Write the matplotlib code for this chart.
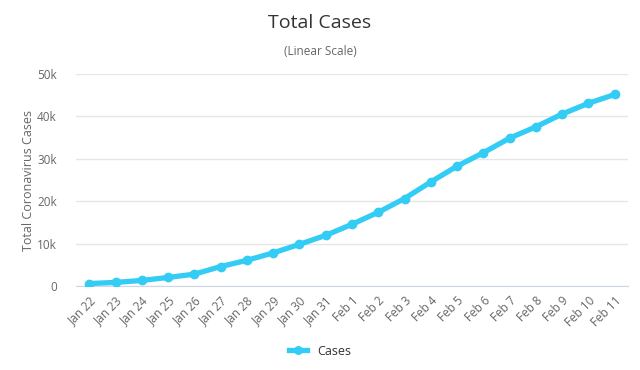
import matplotlib.pyplot as plt
import numpy as np

dates = ['Jan 22', 'Jan 23', 'Jan 24', 'Jan 25', 'Jan 26', 'Jan 27', 'Jan 28',
         'Jan 29', 'Jan 30', 'Jan 31', 'Feb 1', 'Feb 2', 'Feb 3', 'Feb 4',
         'Feb 5', 'Feb 6', 'Feb 7', 'Feb 8', 'Feb 9', 'Feb 10', 'Feb 11']
cases = [580, 845, 1317, 2015, 2800, 4581, 6058, 7813, 9823, 11950, 14553,
         17391, 20630, 24545, 28266, 31439, 34876, 37552, 40553, 43099, 45170]
yticks = [0, 10000, 20000, 30000, 40000, 50000]
ytick_labels = ['0', '10k', '20k', '30k', '40k', '50k']

plt.rcParams['font.family'] = ['Open Sans', 'DejaVu Sans']

fig = plt.figure(figsize=(6.4, 3.7), dpi=100)
ax = fig.add_axes([0.119, 0.227, 0.862, 0.573])

x = np.arange(len(dates))
line_color = '#33ccf5'
ax.plot(x, cases, color=line_color, linewidth=3.8, marker='o', markersize=6,
        label='Cases', zorder=3)

ax.set_xlim(-0.5, len(dates) - 0.5)
ax.set_ylim(0, 50000)
ax.set_yticks(yticks)
ax.set_yticklabels(ytick_labels)
ax.set_xticks(x)
ax.set_xticklabels(dates, rotation=45, ha='right', rotation_mode='anchor')

ax.grid(axis='y', color='#e6e6e6', linewidth=1)
ax.set_axisbelow(True)
for s in ['top', 'right', 'left']:
    ax.spines[s].set_visible(False)
ax.spines['bottom'].set_color('#ccd6eb')
ax.tick_params(axis='both', length=0, colors='#666666', labelsize=8.5)
ax.tick_params(axis='x', pad=6)
ax.tick_params(axis='y', pad=14)

ax.set_ylabel('Total Coronavirus Cases', color='#666666', fontsize=9, labelpad=1)

fig.text(0.5, 0.938, 'Total Cases', ha='center', va='center', fontsize=14,
         color='#333333')
fig.text(0.5, 0.862, '(Linear Scale)', ha='center', va='center', fontsize=8.5,
         color='#666666')

leg = fig.legend(loc='center', bbox_to_anchor=(0.5, 0.051), frameon=False,
                 fontsize=9, handlelength=1.4, markerscale=0.9)
for t in leg.get_texts():
    t.set_color('#333333')

plt.savefig('out.png', dpi=100)
